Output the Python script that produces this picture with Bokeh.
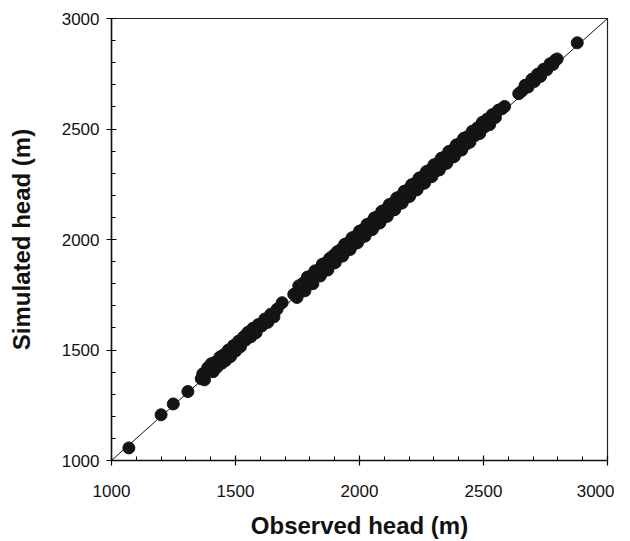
from bokeh.plotting import figure
from bokeh.embed import file_html
from bokeh.resources import INLINE
from bokeh.models import FixedTicker, Range1d

observed = [1070, 1200, 1249, 1308,
            1362, 1368, 1375, 1388, 1395, 1402, 1410, 1418, 1425, 1437,
            1445, 1452, 1460, 1471, 1480, 1492, 1500, 1512, 1520, 1533,
            1541, 1550, 1562, 1570, 1583, 1592, 1605, 1618, 1630, 1642,
            1655, 1668, 1688,
            1735, 1748, 1755, 1765, 1772, 1780, 1790, 1798, 1805, 1812,
            1820, 1828, 1835, 1842, 1850, 1858, 1865, 1872, 1880, 1888,
            1895, 1902, 1910, 1918, 1925, 1932, 1940, 1948, 1955, 1962,
            1970, 1978, 1985, 1992, 2000, 2008, 2015, 2022, 2030, 2038,
            2045, 2052, 2060, 2068, 2075, 2082, 2090, 2098, 2105, 2112,
            2120, 2128, 2135, 2142, 2150, 2158, 2165, 2172, 2180, 2188,
            2195, 2202, 2210, 2218, 2225, 2232, 2240, 2248, 2255, 2262,
            2270, 2278, 2285, 2292, 2300, 2308, 2315, 2322, 2330, 2338,
            2345, 2352, 2360, 2368, 2375, 2382, 2390, 2398, 2405, 2412,
            2420, 2428, 2435, 2445, 2455, 2465, 2475, 2485, 2495, 2505,
            2515, 2525, 2535, 2548, 2560, 2575, 2585,
            2642, 2655, 2668, 2680, 2695, 2705, 2718, 2730, 2742, 2755,
            2768, 2780, 2790, 2797, 2878]
simulated = [1057, 1207, 1256, 1312,
             1370, 1392, 1365, 1420, 1405, 1438, 1402, 1445, 1422, 1468,
             1440, 1478, 1452, 1500, 1470, 1520, 1495, 1540, 1515, 1560,
             1545, 1580, 1560, 1598, 1578, 1615, 1608, 1640, 1625, 1662,
             1650, 1685, 1714,
             1752, 1738, 1790, 1765, 1802, 1768, 1830, 1800, 1835, 1800,
             1858, 1838, 1862, 1835, 1888, 1860, 1895, 1862, 1915, 1890,
             1928, 1895, 1945, 1922, 1955, 1925, 1978, 1950, 1985, 1955,
             2008, 1980, 2015, 1985, 2038, 2010, 2045, 2015, 2068, 2040,
             2075, 2045, 2098, 2070, 2105, 2075, 2128, 2100, 2135, 2105,
             2158, 2130, 2165, 2135, 2188, 2160, 2195, 2165, 2218, 2190,
             2225, 2195, 2248, 2220, 2255, 2225, 2278, 2250, 2285, 2255,
             2308, 2280, 2315, 2285, 2338, 2310, 2345, 2315, 2368, 2340,
             2375, 2345, 2398, 2370, 2405, 2375, 2428, 2400, 2435, 2405,
             2458, 2430, 2465, 2440, 2490, 2470, 2505, 2480, 2530, 2510,
             2545, 2520, 2565, 2552, 2585, 2592, 2602,
             2660, 2672, 2698, 2690, 2725, 2715, 2748, 2738, 2770, 2768,
             2795, 2792, 2812, 2817, 2890]
line_vals = [1000, 3000]
major_ticks = [1000, 1500, 2000, 2500, 3000]
minor_ticks = [1100, 1200, 1300, 1400, 1600, 1700, 1800, 1900, 2100, 2200, 2300, 2400,
               2600, 2700, 2800, 2900]

FONT = "Liberation Sans"

p = figure(width=614, height=541, output_backend="svg", toolbar_location=None,
           x_range=Range1d(1000, 3000), y_range=Range1d(1000, 3000),
           min_border_left=111, min_border_right=7, min_border_top=18, min_border_bottom=80)
p.xgrid.visible = False
p.ygrid.visible = False
p.outline_line_color = "#222222"
p.outline_line_width = 1.2
p.background_fill_color = "white"
p.border_fill_color = "white"

p.line(line_vals, line_vals, line_color="#111111", line_width=1)
p.scatter(observed, simulated, marker="circle", size=12, fill_color="#141414",
          line_color="#141414")

for ax in (p.xaxis[0], p.yaxis[0]):
    ax.ticker = FixedTicker(ticks=major_ticks, minor_ticks=minor_ticks)
    ax.major_tick_in = 5
    ax.major_tick_out = 5
    ax.minor_tick_in = 4
    ax.minor_tick_out = 0
    ax.axis_line_color = "#111111"
    ax.axis_line_width = 1.5
    ax.major_tick_line_width = 1.2
    ax.major_label_text_font = FONT
    ax.major_label_text_font_size = "17px"
    ax.major_label_text_color = "#111111"
    ax.axis_label_text_font = FONT
    ax.axis_label_text_font_size = "24px"
    ax.axis_label_text_font_style = "bold"
    ax.axis_label_text_color = "#111111"

p.xaxis.axis_label = "Observed head (m)"
p.yaxis.axis_label = "Simulated head (m)"
p.xaxis.major_label_standoff = 19
p.yaxis.major_label_standoff = 7
p.xaxis.axis_label_standoff = 12
p.yaxis.axis_label_standoff = 24

open("out.html", "w").write(file_html(p, INLINE))
